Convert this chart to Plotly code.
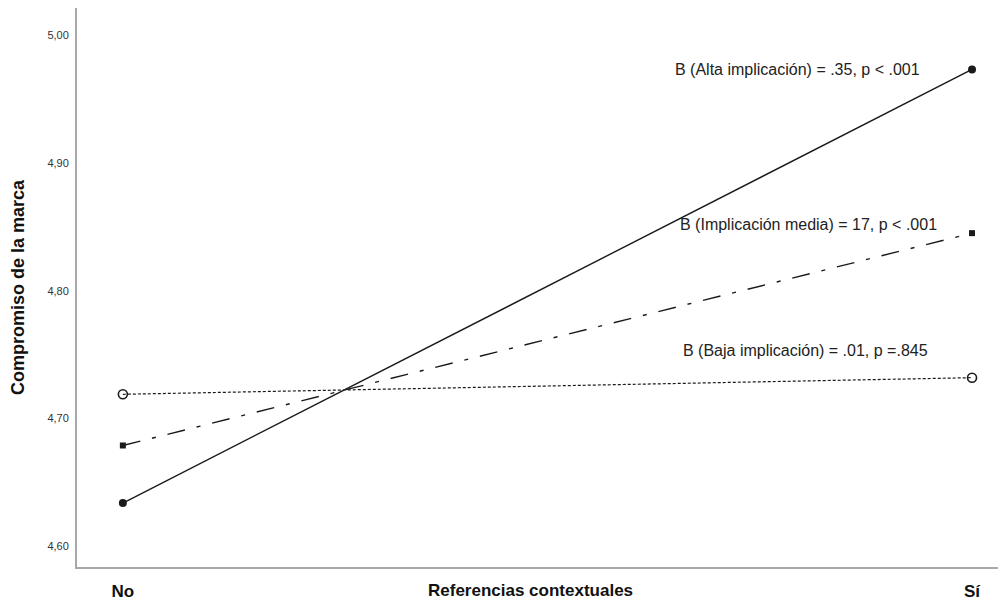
import plotly.graph_objects as go

categories = ["No", "Sí"]
x_pos = [0, 1]
alta = [4.634, 4.973]
media = [4.679, 4.845]
baja = [4.719, 4.732]

y_tickvals = [4.60, 4.70, 4.80, 4.90, 5.00]
y_ticktext = ["4,60", "4,70", "4,80", "4,90", "5,00"]

labels = [
    "B (Alta implicación) = .35, p < .001",
    "B (Implicación media) = 17, p < .001",
    "B (Baja implicación) = .01, p =.845",
]

LINE = "#1a1a1a"
TITLE_FONT = "Liberation Sans Narrow, Arial Narrow, Liberation Sans"
# page body has an 8px margin; figure sized to fill the remaining window
W, H = 998, 594
ML, MT, MR, MB = 69, 0, 0, 35

fig = go.Figure()
fig.add_trace(go.Scatter(x=x_pos, y=alta, mode="lines+markers",
                         line=dict(color=LINE, width=1.4),
                         marker=dict(symbol="circle", size=8, color=LINE)))
fig.add_trace(go.Scatter(x=x_pos, y=media, mode="lines+markers",
                         line=dict(color=LINE, width=1.4, dash="18px,12px,4px,12px"),
                         marker=dict(symbol="square", size=6, color=LINE)))
fig.add_trace(go.Scatter(x=x_pos, y=baja, mode="lines+markers",
                         line=dict(color=LINE, width=1.2, dash="3px,2px"),
                         marker=dict(symbol="circle-open", size=9, color=LINE,
                                     line=dict(width=1.6, color="#333"))))

ann_pos = [(0.794, 4.973), (0.808, 4.852), (0.804, 4.753)]
for (ax, ay), t in zip(ann_pos, labels):
    fig.add_annotation(x=ax, y=ay, text=t, showarrow=False,
                       font=dict(family="Liberation Sans, Arial", size=16, color="#222"))

fig.add_annotation(xref="paper", yref="paper", x=(530 - 77) / (1006 - 77), y=0,
                   yanchor="middle", xanchor="center",
                   yshift=-23, text="<b>Referencias contextuales</b>", showarrow=False,
                   font=dict(family=TITLE_FONT, size=17, color="#111"))

fig.update_layout(
    width=W, height=H,
    margin=dict(l=ML, r=MR, t=MT, b=MB),
    plot_bgcolor="white", paper_bgcolor="white",
    showlegend=False,
    xaxis=dict(range=[-0.054, 1.040], tickvals=x_pos, ticktext=["<b>%s</b>" % c for c in categories],
               showgrid=False, zeroline=False, showline=True, linecolor="#a8a8a8", linewidth=2,
               ticks="outside", ticklen=8, tickcolor="rgba(0,0,0,0)", automargin=False,
               tickfont=dict(family=TITLE_FONT, size=17, color="#111")),
    yaxis=dict(range=[4.584, 5.021], tickvals=y_tickvals, ticktext=y_ticktext,
               showgrid=False, zeroline=False, showline=True, linecolor="#a8a8a8", linewidth=2,
               ticks="outside", ticklen=4, tickcolor="rgba(0,0,0,0)", automargin=False,
               tickfont=dict(family="Liberation Sans, Arial", size=11, color="#333"),
               title=dict(text="<b>Compromiso de la marca</b>", standoff=18,
                          font=dict(family=TITLE_FONT, size=18, color="#111"))),
)

fig.write_html("out.html")
